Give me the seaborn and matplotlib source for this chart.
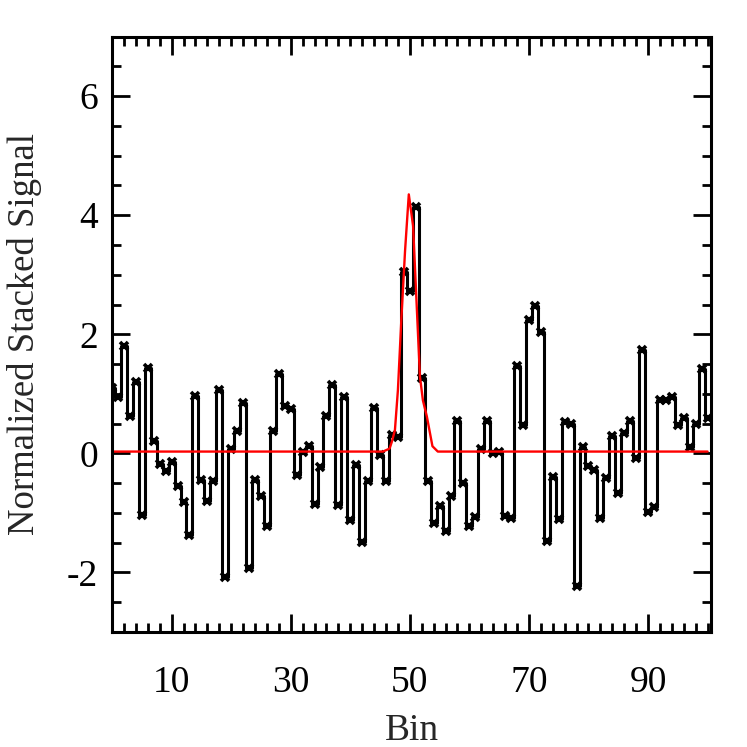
import numpy as np
import pandas as pd
import matplotlib
matplotlib.use("Agg")
import matplotlib.pyplot as plt
import seaborn as sns
from matplotlib.ticker import MultipleLocator

# ---- data ----
bins = list(range(0, 101))
signal = [1.10, 0.95, 1.81, 0.62, 1.20, -1.04, 1.44, 0.20, -0.18, -0.30,
          -0.15, -0.54, -0.82, -1.37, 0.97, -0.44, -0.80, -0.47, 1.07, -2.08,
          0.08, 0.37, 0.84, -1.92, -0.45, -0.72, -1.22, 0.37, 1.34, 0.79,
          0.75, -0.37, 0.03, 0.12, -0.85, -0.23, 0.62, 1.14, -0.87, 0.95,
          -1.12, -0.20, -1.49, -0.47, 0.77, -0.02, -0.47, 0.30, 0.28, 3.05,
          2.73, 4.13, 1.26, -0.47, -1.17, -0.89, -1.31, -0.72, 0.55, -0.50,
          -1.22, -1.07, 0.08, 0.54, 0.00, 0.03, -1.05, -1.09, 1.47, 0.47,
          2.24, 2.48, 2.03, -1.47, -0.39, -1.10, 0.52, 0.49, -2.23, 0.10,
          -0.22, -0.28, -1.09, -0.42, 0.29, -0.67, 0.35, 0.54, -0.08, 1.74,
          -0.99, -0.90, 0.90, 0.89, 0.95, 0.47, 0.60, 0.10, 0.50, 1.41,
          0.60]

fit_x = [0, 45.5, 46.6, 47.0, 47.5, 48.0, 48.6, 49.2, 49.83, 50.55, 51.7,
         52.2, 52.86, 53.8, 54.7, 100]
fit_y = [0.03, 0.03, 0.08, 0.20, 0.39, 1.06, 2.29, 3.40, 4.35, 3.82, 1.29,
         0.89, 0.62, 0.12, 0.03, 0.03]

x_ticks = [10, 30, 50, 70, 90]
y_ticks = [-2, 0, 2, 4, 6]

sns.set_theme(style="ticks")
plt.rcParams['font.family'] = ['Liberation Serif', 'DejaVu Serif']
plt.rcParams['axes.unicode_minus'] = False

df = pd.DataFrame({"Bin": bins, "Signal": signal})
dfit = pd.DataFrame({"x": fit_x, "y": fit_y})

fig = plt.figure(figsize=(7.47, 7.47), dpi=100)
ax = fig.add_axes([0.150, 0.154, 0.802, 0.797])

sns.lineplot(data=df, x="Bin", y="Signal", ax=ax, color="black",
             drawstyle="steps-mid", linewidth=2.2, marker="x",
             markersize=5.5, markeredgewidth=2.6, markeredgecolor="black")
sns.lineplot(data=dfit, x="x", y="y", ax=ax, color="red", linewidth=1.7)

ax.set_xlim(0, 100.6)
ax.set_ylim(-3, 7)
ax.set_xticks(x_ticks)
ax.set_yticks(y_ticks)
ax.xaxis.set_minor_locator(MultipleLocator(2))
ax.yaxis.set_minor_locator(MultipleLocator(0.5))
ax.tick_params(which="both", direction="in", top=True, right=True,
               width=2.0, labelsize=27, colors="black")
ax.tick_params(which="major", length=13)
ax.tick_params(which="minor", length=6.5)
ax.tick_params(axis="x", which="major", pad=24)
ax.tick_params(axis="y", which="major", pad=10)
for s in ax.spines.values():
    s.set_linewidth(2.2)
    s.set_color("black")

ax.set_xlabel("Bin", fontsize=27, labelpad=10)
ax.set_ylabel("Normalized Stacked Signal", fontsize=26.5, labelpad=18)

fig.savefig("out.png", dpi=100)
